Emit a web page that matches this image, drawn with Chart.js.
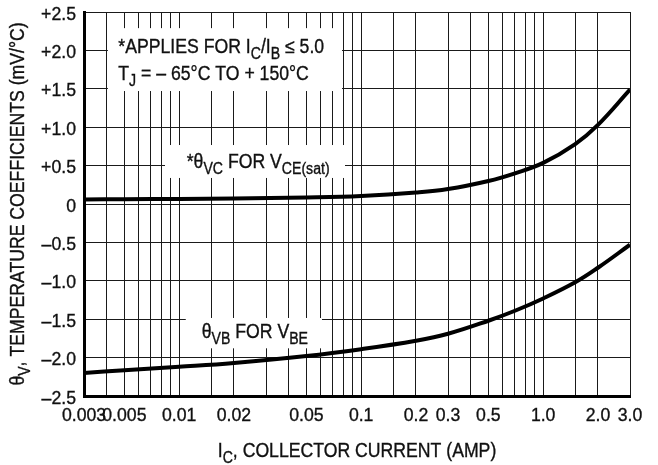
<!DOCTYPE html>
<html>
<head>
<meta charset="utf-8">
<title>Temperature coefficients vs collector current</title>
<script src="https://cdn.jsdelivr.net/npm/chart.js@4.4.1/dist/chart.umd.min.js"></script>
<style>
  html, body { margin: 0; padding: 0; background: #fff; }
  #chart { display: block; }
</style>
</head>
<body>
<canvas id="chart" width="658" height="465"></canvas>
<script>
// values
const icAmp   = [0.003, 0.005, 0.01, 0.02, 0.05, 0.1, 0.2, 0.3, 0.5, 0.7, 1.0, 1.5, 2.0, 3.0];
const thetaVC = [0.06, 0.062, 0.066, 0.071, 0.085, 0.105, 0.15, 0.195, 0.30, 0.40, 0.535, 0.78, 1.03, 1.49];
const thetaVB = [-2.20, -2.165, -2.12, -2.07, -1.98, -1.89, -1.78, -1.69, -1.52, -1.39, -1.23, -1.02, -0.83, -0.53];

// grid / ticks
const xGrid = [0.003, 0.004, 0.005, 0.006, 0.007, 0.008, 0.009, 0.01, 0.015,
  0.02, 0.03, 0.04, 0.05, 0.06, 0.07, 0.08, 0.09, 0.1, 0.15,
  0.2, 0.3, 0.4, 0.5, 0.6, 0.7, 0.8, 0.9, 1.0, 1.5, 2.0, 3.0];
const xTickValues = [0.003, 0.005, 0.01, 0.02, 0.05, 0.1, 0.2, 0.3, 0.5, 1.0, 2.0, 3.0];
const xTickLabels = ["0.003", "0.005", "0.01", "0.02", "0.05", "0.1", "0.2", "0.3", "0.5", "1.0", "2.0", "3.0"];
const yTickValues = [2.5, 2.0, 1.5, 1.0, 0.5, 0, -0.5, -1.0, -1.5, -2.0, -2.5];
const yTickLabels = ["+2.5", "+2.0", "+1.5", "+1.0", "+0.5", "0", "\u20130.5", "\u20131.0", "\u20131.5", "\u20132.0", "\u20132.5"];

const FONT = "'Liberation Sans', Arial, Helvetica, sans-serif";
const INK = "#111";
const TEXT_SIZE = 19.5;
const TEXT_SX = 0.905;   // the reference type is a bit condensed

// annotations: white box (x0, x1, yTop, yBottom in data units) + text lines (left, baseline)
const notes = [
  { box: [0.00406, 0.0785, 2.29, 1.471], lines: [
    { at: [0.00463, 1.962], runs: [["*APPLIES FOR I"], ["C", 1], ["/I"], ["B", 1], [" \u2264 5.0"]] },
    { at: [0.00463, 1.615], runs: [["T"], ["J", 1], [" = \u2013 65\u00B0C TO + 150\u00B0C"]] }
  ]},
  { box: [0.00836, 0.0815, 0.768, 0.339], lines: [
    { at: [0.0110, 0.465], runs: [["*\u03B8"], ["VC", 1], [" FOR V"], ["CE(sat)", 1]] }
  ]},
  { box: [0.01087, 0.0609, -1.484, -1.879], lines: [
    { at: [0.0133, -1.749], runs: [["\u03B8"], ["VB", 1], [" FOR V"], ["BE", 1]] }
  ]}
];

const xTitle = [["I"], ["C", 1], [", COLLECTOR CURRENT (AMP)"]];
const yTitle = [["\u03B8"], ["V", 1], [", TEMPERATURE COEFFICIENTS (mV/\u00B0C)"]];

// text with subscripts, slightly condensed
function richWidth(ctx, runs, size) {
  let w = 0;
  for (const [t, sub] of runs) {
    ctx.font = `${sub ? size * 0.8 : size}px ${FONT}`;
    w += ctx.measureText(t).width;
  }
  return w;
}

function drawRich(ctx, runs, x, y, align = "left", size = TEXT_SIZE, sx = TEXT_SX) {
  const w = richWidth(ctx, runs, size) * sx;
  const x0 = align === "center" ? x - w / 2 : align === "right" ? x - w : x;
  ctx.save();
  ctx.translate(x0, y);
  ctx.scale(sx, 1);
  ctx.fillStyle = INK;
  ctx.strokeStyle = INK;
  ctx.lineWidth = 0.35;
  ctx.textAlign = "left";
  ctx.textBaseline = "alphabetic";
  let cx = 0;
  for (const [t, sub] of runs) {
    ctx.font = `${sub ? size * 0.8 : size}px ${FONT}`;
    const dy = sub ? size * 0.3 : 0;
    ctx.fillText(t, cx, dy);
    ctx.strokeText(t, cx, dy);
    cx += ctx.measureText(t).width;
  }
  ctx.restore();
}

const notesPlugin = {
  id: "notes",
  beforeDatasetsDraw(chart) {
    const { ctx, scales: { x, y } } = chart;
    ctx.save();
    for (const n of notes) {
      const [x0, x1, y0, y1] = n.box;
      const px0 = x.getPixelForValue(x0), px1 = x.getPixelForValue(x1);
      const py0 = y.getPixelForValue(y0), py1 = y.getPixelForValue(y1);
      ctx.fillStyle = "#fff";
      ctx.fillRect(px0, py0, px1 - px0, py1 - py0);
      for (const l of n.lines) {
        drawRich(ctx, l.runs, x.getPixelForValue(l.at[0]), y.getPixelForValue(l.at[1]));
      }
    }
    ctx.restore();
  },
  afterDraw(chart) {
    const { ctx, chartArea: a, scales: { x, y } } = chart;
    // tick labels, placed through the scales
    xTickValues.forEach((v, i) => {
      drawRich(ctx, [[xTickLabels[i]]], x.getPixelForValue(v), a.bottom + 25, "center", 19, 0.93);
    });
    yTickValues.forEach((v, i) => {
      drawRich(ctx, [[yTickLabels[i]]], a.left - 8, y.getPixelForValue(v) + 7.5, "right", 19, 0.93);
    });
    // axis titles
    drawRich(ctx, xTitle, (a.left + a.right) / 2, 457, "center");
    ctx.save();
    ctx.translate(24, (a.top + a.bottom) / 2);
    ctx.rotate(-Math.PI / 2);
    drawRich(ctx, yTitle, 0, 0, "center");
    ctx.restore();
  }
};

const curveStyle = {
  borderColor: "#000",
  borderWidth: 4,
  pointRadius: 0,
  fill: false,
  tension: 0.4
};

new Chart(document.getElementById("chart"), {
  type: "line",
  data: {
    datasets: [
      { label: "thetaVC", data: icAmp.map((v, i) => ({ x: v, y: thetaVC[i] })), ...curveStyle },
      { label: "thetaVB", data: icAmp.map((v, i) => ({ x: v, y: thetaVB[i] })), ...curveStyle }
    ]
  },
  options: {
    responsive: false,
    animation: false,
    devicePixelRatio: 1,
    layout: { padding: { left: 0, right: 28, top: 12, bottom: 0 } },
    plugins: { legend: { display: false }, tooltip: { enabled: false } },
    scales: {
      x: {
        type: "logarithmic",
        min: 0.003,
        max: 3,
        afterBuildTicks: (s) => { s.ticks = xGrid.map(v => ({ value: v })); },
        afterFit: (s) => { s.height = 69; },
        grid: { color: "#1a1a1a", lineWidth: 1, drawTicks: false },
        border: { display: true, color: "#000", width: 3 },
        ticks: { display: false, autoSkip: false, maxRotation: 0 }
      },
      y: {
        type: "linear",
        min: -2.5,
        max: 2.5,
        afterBuildTicks: (s) => { s.ticks = yTickValues.map(v => ({ value: v })); },
        afterFit: (s) => { s.width = 84; },
        grid: { color: "#1a1a1a", lineWidth: 1, drawTicks: false },
        border: { display: true, color: "#000", width: 3 },
        ticks: { display: false }
      }
    }
  },
  plugins: [notesPlugin]
});
</script>
</body>
</html>
